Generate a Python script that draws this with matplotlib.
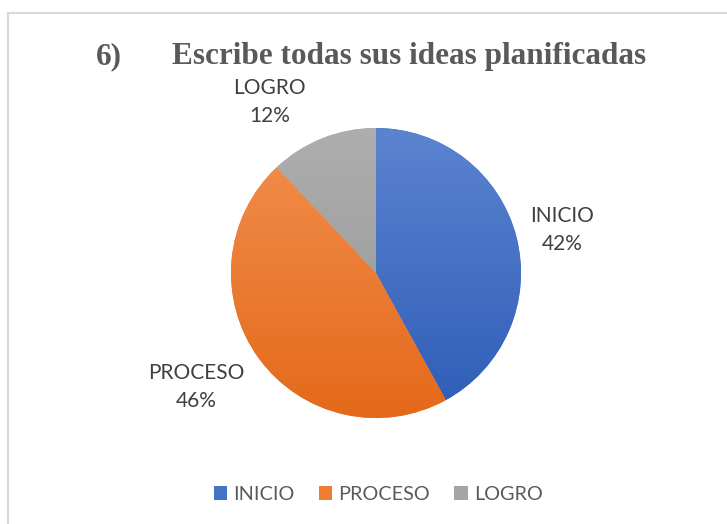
import numpy as np
import matplotlib.pyplot as plt
from matplotlib.patches import Patch, Rectangle

# --- data ---
categories = ["INICIO", "PROCESO", "LOGRO"]
percentages = [42, 46, 12]
title_number = "6)"
title_text = "Escribe todas sus ideas planificadas"

# gradient colours (top, bottom) for each slice, Excel-like
top_colors = ["#5B84D0", "#F2904F", "#AEAEAE"]
bottom_colors = ["#2E5DB7", "#E4691A", "#949494"]
mid_colors = ["#4472C4", "#ED7D31", "#A5A5A5"]

# label placement: distance from centre (in radii) and small angle nudge
label_dist = [1.32, 1.47, 1.39]
label_nudge = [-1.4, -3.7, 10.2]

W, H = 727, 524
fig = plt.figure(figsize=(W / 100, H / 100), dpi=100)
fig.patch.set_facecolor("white")

# light grey frame (only top/left edges visible in the original crop)
frame = Rectangle((8 / W, -0.5), 2.0, 1.5 - 13 / H, transform=fig.transFigure,
                  fill=False, edgecolor="#D9D9D9", linewidth=1.5)
fig.add_artist(frame)

cx, cy, r = 376, 273, 145
ax = fig.add_axes([(cx - r) / W, (H - cy - r) / H, 2 * r / W, 2 * r / H])

wedges, _ = ax.pie(percentages, colors=mid_colors, startangle=90,
                   counterclock=False, radius=1,
                   wedgeprops=dict(linewidth=0))

# vertical gradient clipped to each wedge
for w, c_top, c_bot in zip(wedges, top_colors, bottom_colors):
    t = np.linspace(0, 1, 256)[:, None]
    top = np.array(plt.matplotlib.colors.to_rgb(c_top))
    bot = np.array(plt.matplotlib.colors.to_rgb(c_bot))
    grad = top[None, None, :] * (1 - t[..., None]) + bot[None, None, :] * t[..., None]
    grad = np.repeat(grad, 2, axis=1)
    im = ax.imshow(grad, extent=(-1, 1, -1, 1), origin="upper",
                   aspect="auto", interpolation="bilinear", zorder=w.get_zorder() + 0.1)
    im.set_clip_path(w)

ax.set_xlim(-1, 1)
ax.set_ylim(-1, 1)
ax.axis("off")

# data labels
label_font = ["Lato", "DejaVu Sans"]
total = sum(percentages)
start = 90.0
for cat, val, d, nudge in zip(categories, percentages, label_dist, label_nudge):
    sweep = 360.0 * val / total
    mid = start - sweep / 2
    start -= sweep
    ang = np.deg2rad(mid + nudge)
    ax.text(d * np.cos(ang), d * np.sin(ang), f"{cat}\n{val}%",
            ha="center", va="center", fontsize=15, color="#404040",
            family=label_font, linespacing=1.5, clip_on=False)

# title
fig.text(96 / W, 1 - 64 / H, title_number, ha="left", va="baseline",
         fontsize=22.5, fontweight="bold", color="#595959",
         family="Liberation Serif")
fig.text(172 / W, 1 - 64 / H, title_text, ha="left", va="baseline",
         fontsize=22.5, fontweight="bold", color="#595959",
         family="Liberation Serif")

# legend
handles = [Patch(facecolor=c, edgecolor="none") for c in mid_colors]
fig.legend(handles, categories, loc="center", bbox_to_anchor=(378 / W, 1 - 494 / H),
           ncol=3, frameon=False, handlelength=0.7, handleheight=0.7,
           handletextpad=0.3, columnspacing=1.2,
           prop=dict(family=label_font, size=14.3), labelcolor="#595959")

fig.savefig("out.png", dpi=100, facecolor="white")
